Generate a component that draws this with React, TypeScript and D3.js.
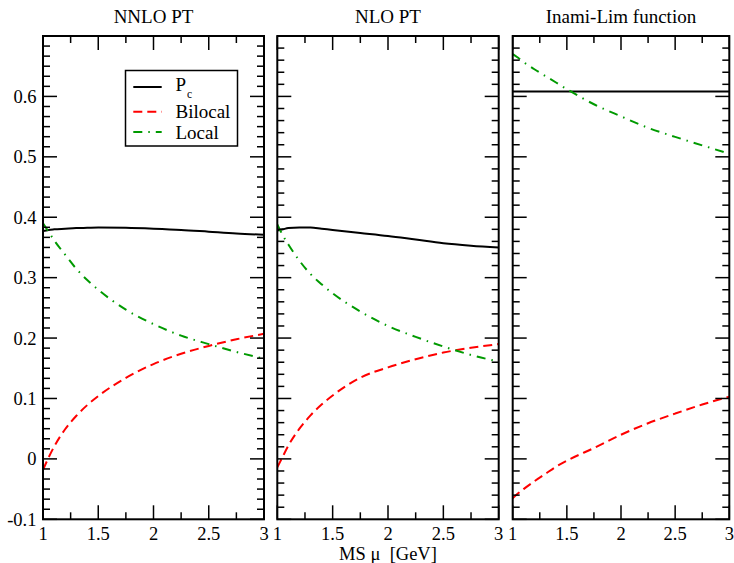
import React from "react";
import * as d3 from "d3";

// renormalisation scale mu [GeV]
const MU = [1, 1.05, 1.1, 1.2, 1.3, 1.4, 1.5, 1.75, 2, 2.25, 2.5, 2.75, 3];

// NNLO PT
const nnloPc = [0.377, 0.379, 0.380, 0.381, 0.382, 0.3825, 0.383, 0.3825, 0.381, 0.379, 0.376, 0.373, 0.371];
const nnloBilocal = [-0.018, 0.002, 0.020, 0.049, 0.071, 0.089, 0.104, 0.134, 0.157, 0.174, 0.187, 0.198, 0.207];
const nnloLocal = [0.390, 0.376, 0.362, 0.338, 0.315, 0.296, 0.280, 0.247, 0.223, 0.204, 0.190, 0.177, 0.166];

// NLO PT
const nloPc = [0.378, 0.380, 0.382, 0.383, 0.383, 0.381, 0.379, 0.374, 0.369, 0.363, 0.357, 0.353, 0.350];
const nloBilocal = [-0.014, 0.004, 0.022, 0.050, 0.072, 0.090, 0.105, 0.1345, 0.1515, 0.165, 0.176, 0.184, 0.190];
const nloLocal = [0.388, 0.370, 0.355, 0.328, 0.306, 0.289, 0.274, 0.244, 0.220, 0.202, 0.186, 0.172, 0.161];

// Inami-Lim function
const ilPc = [0.608, 0.608, 0.608, 0.608, 0.608, 0.608, 0.608, 0.608, 0.608, 0.608, 0.608, 0.608, 0.608];
const ilBilocal = [-0.065, -0.057, -0.050, -0.037, -0.025, -0.013, -0.003, 0.018, 0.040, 0.059, 0.075, 0.090, 0.103];
const ilLocal = [0.670, 0.664, 0.657, 0.645, 0.634, 0.623, 0.612, 0.587, 0.567, 0.548, 0.533, 0.519, 0.505];

const panelTitles = ["NNLO PT", "NLO PT", "Inami-Lim function"];
const xTicks = [1, 1.5, 2, 2.5, 3];
const xTickLabels = ["1", "1.5", "2", "2.5", "3"];
const yTicks = [-0.1, 0, 0.1, 0.2, 0.3, 0.4, 0.5, 0.6];
const yTickLabels = ["-0.1", "0", "0.1", "0.2", "0.3", "0.4", "0.5", "0.6"];
const ySubdivisions = [6, 5, 5];

const seriesNames = ["Bilocal", "Local"];

const W = 734;
const H = 563;
const TOP = 36;
const BOTTOM = 519.3;
const panelX = [
  [43, 264],
  [277.3, 498.7],
  [512.7, 729.3],
];
const FONT = "'Liberation Serif', 'DejaVu Serif', serif";
const GREEN = "#009a00";
const RED = "#ff0000";
const STYLES = [
  { color: "#000", dash: undefined as string | undefined },
  { color: RED, dash: "9,5" },
  { color: GREEN, dash: "9,6,1.5,6" },
];

const panelData = [
  [nnloPc, nnloBilocal, nnloLocal],
  [nloPc, nloBilocal, nloLocal],
  [ilPc, ilBilocal, ilLocal],
];

const yScale = d3.scaleLinear().domain([-0.1, 0.7]).range([BOTTOM, TOP]);

function Panel({ idx }: { idx: number }) {
  const [x0, x1] = panelX[idx];
  const x = d3.scaleLinear().domain([1, 3]).range([x0, x1]);
  const line = d3
    .line<number>()
    .x((_, i) => x(MU[i]))
    .y((d) => yScale(d))
    .curve(d3.curveMonotoneX);

  const xMinor = d3.range(1, 3.001, 0.25).filter((v) => !xTicks.includes(v));
  const sub = ySubdivisions[idx];
  const yMinor: number[] = [];
  for (let k = 0; k < 8; k++) {
    for (let j = 1; j < sub; j++) {
      yMinor.push(-0.1 + k * 0.1 + (j * 0.1) / sub);
    }
  }
  const MAJ = 14;
  const MIN = 7;
  const tickStyle = { stroke: "#000", strokeWidth: 1.5 };

  return (
    <g>
      <defs>
        <clipPath id={`clip${idx}`}>
          <rect x={x0} y={TOP} width={x1 - x0} height={BOTTOM - TOP} />
        </clipPath>
      </defs>
      <text x={(x0 + x1) / 2} y={23} textAnchor="middle" fontSize={19}>
        {panelTitles[idx]}
      </text>
      <g clipPath={`url(#clip${idx})`}>
        {panelData[idx].map((vals, s) => (
          <path
            key={s}
            d={line(vals) || ""}
            fill="none"
            stroke={STYLES[s].color}
            strokeWidth={2}
            strokeDasharray={STYLES[s].dash}
          />
        ))}
      </g>
      {/* x ticks, bottom and top */}
      {xTicks.map((t) => (
        <g key={`xM${t}`}>
          <line x1={x(t)} x2={x(t)} y1={BOTTOM} y2={BOTTOM - MAJ} {...tickStyle} />
          <line x1={x(t)} x2={x(t)} y1={TOP} y2={TOP + MAJ} {...tickStyle} />
        </g>
      ))}
      {xMinor.map((t) => (
        <g key={`xm${t}`}>
          <line x1={x(t)} x2={x(t)} y1={BOTTOM} y2={BOTTOM - MIN} {...tickStyle} />
          <line x1={x(t)} x2={x(t)} y1={TOP} y2={TOP + MIN} {...tickStyle} />
        </g>
      ))}
      {/* y ticks, left and right */}
      {yTicks.map((t) => (
        <g key={`yM${t}`}>
          <line x1={x0} x2={x0 + MAJ} y1={yScale(t)} y2={yScale(t)} {...tickStyle} />
          <line x1={x1} x2={x1 - MAJ} y1={yScale(t)} y2={yScale(t)} {...tickStyle} />
        </g>
      ))}
      {yMinor.map((t, i) => (
        <g key={`ym${i}`}>
          <line x1={x0} x2={x0 + MIN} y1={yScale(t)} y2={yScale(t)} {...tickStyle} />
          <line x1={x1} x2={x1 - MIN} y1={yScale(t)} y2={yScale(t)} {...tickStyle} />
        </g>
      ))}
      <rect x={x0} y={TOP} width={x1 - x0} height={BOTTOM - TOP} fill="none" stroke="#000" strokeWidth={2} />
      {xTicks.map((t, i) => (
        <text key={`xl${t}`} x={x(t)} y={539.5} textAnchor="middle" fontSize={18.5}>
          {xTickLabels[i]}
        </text>
      ))}
      {idx === 0 &&
        yTicks.map((t, i) => (
          <text key={`yl${t}`} x={x0 - 6.5} y={yScale(t)} dy="0.35em" textAnchor="end" fontSize={18.5}>
            {yTickLabels[i]}
          </text>
        ))}
    </g>
  );
}

function Legend() {
  const lx0 = 133.3;
  const lx1 = 161.7;
  const tx = 175.5;
  const rows = [87, 111.7, 132];
  return (
    <g>
      <rect x={125.5} y={70.5} width={112} height={75.5} fill="#fff" stroke="#000" strokeWidth={1.5} />
      {rows.map((ry, s) => (
        <line key={s} x1={lx0} x2={lx1} y1={ry} y2={ry} stroke={STYLES[s].color} strokeWidth={2} strokeDasharray={STYLES[s].dash} />
      ))}
      <text x={tx} y={90.7} fontSize={19}>
        P
        <tspan fontSize={11.5} dy={7.3} dx={1}>
          c
        </tspan>
      </text>
      <text x={tx} y={118} fontSize={19}>
        {seriesNames[0]}
      </text>
      <text x={tx} y={138.7} fontSize={19}>
        {seriesNames[1]}
      </text>
    </g>
  );
}

export default function App() {
  return (
    <div style={{ position: "absolute", left: 0, top: 0 }}>
      <svg width={W} height={H} style={{ display: "block", background: "#fff" }} fontFamily={FONT}>
        <rect width={W} height={H} fill="#fff" />
        {[0, 1, 2].map((i) => (
          <Panel key={i} idx={i} />
        ))}
        <Legend />
        <text x={388} y={559.5} textAnchor="middle" fontSize={18.5} style={{ whiteSpace: "pre" }}>
          {"MS \u03bc  [GeV]"}
        </text>
      </svg>
    </div>
  );
}
